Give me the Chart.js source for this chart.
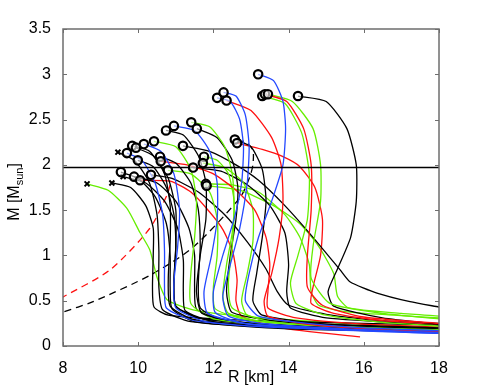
<!DOCTYPE html>
<html>
<head>
<meta charset="utf-8">
<script src="https://cdn.jsdelivr.net/npm/chart.js@4"></script>
<style>
  html, body { margin: 0; padding: 0; background: #fff; }
</style>
</head>
<body>
<canvas id="mrChart" width="485" height="389"></canvas>
<script>
// tick values
const xTicks = [8, 10, 12, 14, 16, 18];
const yTicks = [0, 0.5, 1, 1.5, 2, 2.5, 3, 3.5];
const twoSolarMass = 1.97;

// mass-radius curves, [R km, M Msun], first point = maximum mass
const blueA = [[13.19,3.0],[13.6,2.93],[13.85,2.7],[13.92,2.4],[13.85,2.0],[13.55,1.6],[13.2,1.2],[12.95,0.8],[12.85,0.5],[13.2,0.33],[14.5,0.25],[16,0.2],[18,0.17]];
const blueB1 = [[12.1,2.74],[12.45,2.7],[12.7,2.5],[12.8,2.2],[12.75,1.8],[12.55,1.4],[12.25,1.0],[12.0,0.6],[12.05,0.37],[12.8,0.25],[15,0.18],[18,0.14]];
const blueB2 = [[12.27,2.8],[12.6,2.76],[12.85,2.55],[12.95,2.2],[12.9,1.8],[12.7,1.3],[12.45,0.9],[12.25,0.55],[12.4,0.33],[13.5,0.24],[16,0.18],[18,0.15]];
const redB3 = [[12.35,2.71],[13.0,2.6],[13.55,2.3],[13.8,2.0],[13.85,1.6],[13.75,1.2],[13.55,0.8],[13.35,0.5],[13.45,0.33],[14.5,0.24],[16.5,0.18],[18,0.16]];
const greenC1 = [[13.3,2.76],[13.9,2.68],[14.35,2.35],[14.55,1.9],[14.5,1.4],[14.25,1.0],[14.05,0.7],[14.2,0.47],[15,0.34],[16.5,0.26],[18,0.22]];
const redC2 = [[13.37,2.78],[13.95,2.7],[14.4,2.4],[14.6,2.0],[14.6,1.5],[14.5,1.0],[14.5,0.65],[14.9,0.45],[16,0.32],[18,0.25]];
const greenC3 = [[13.45,2.78],[14.1,2.7],[14.65,2.4],[14.85,2.0],[14.85,1.6],[14.65,1.1],[14.6,0.75],[15.1,0.47],[16.5,0.36],[18,0.3]];
const blackD = [[14.25,2.76],[15.0,2.7],[15.55,2.4],[15.8,2.0],[15.8,1.6],[15.65,1.2],[15.3,0.85],[15.05,0.6],[15.2,0.44],[16.5,0.31],[18,0.24]];
const greenE = [[11.41,2.47],[11.9,2.42],[12.3,2.2],[12.5,1.9],[12.55,1.5],[12.5,1.1],[12.4,0.7],[12.5,0.42],[13.5,0.27],[16,0.2],[18,0.17]];
const blueF = [[10.95,2.43],[11.5,2.38],[11.9,2.15],[12.1,1.8],[12.1,1.4],[11.95,1.0],[11.75,0.6],[11.85,0.36],[13,0.24],[16,0.17],[18,0.14]];
const blackG = [[10.74,2.38],[11.2,2.33],[11.6,2.1],[11.8,1.8],[11.8,1.4],[11.65,1.0],[11.55,0.6],[11.7,0.36],[13,0.25],[16,0.19],[18,0.17]];
const blackH = [[11.56,2.4],[12.1,2.3],[12.5,2.05],[12.65,1.75],[12.6,1.4],[12.45,1.0],[12.35,0.6],[12.5,0.37],[14,0.26],[18,0.2]];
const greenI = [[10.42,2.26],[11.0,2.2],[11.4,1.95],[11.55,1.6],[11.5,1.2],[11.4,0.8],[11.4,0.47],[12,0.3],[14,0.22],[18,0.18]];
const blueJ = [[10.15,2.23],[10.6,2.15],[10.95,1.9],[11.1,1.5],[11.05,1.1],[10.95,0.7],[11.0,0.42],[11.8,0.27],[14,0.2],[18,0.16]];
const blackK = [[9.84,2.21],[10.3,2.15],[10.7,1.9],[10.85,1.55],[10.85,1.15],[10.8,0.75],[10.85,0.44],[11.5,0.29],[14,0.2],[18,0.16]];
const blackL = [[9.94,2.19],[10.4,2.1],[10.8,1.85],[11.0,1.5],[11.0,1.1],[10.95,0.7],[11.0,0.44],[11.6,0.31],[14,0.22],[18,0.18]];
const blueM = [[9.7,2.13],[10.1,2.05],[10.45,1.8],[10.65,1.45],[10.7,1.05],[10.7,0.65],[10.75,0.42],[11.5,0.28],[14,0.2],[18,0.17]];
const blackN = [[9.46,2.14],[9.9,2.05],[10.3,1.8],[10.5,1.45],[10.55,1.05],[10.55,0.65],[10.65,0.4],[11.4,0.27],[14,0.2],[18,0.16]];
const blackO = [[11.19,2.21],[11.9,2.15],[12.6,2.0],[13.2,1.83],[13.9,1.55],[14.65,1.2],[15.37,0.84],[15.63,0.71],[16.35,0.585],[17.23,0.49],[18,0.43]];
const blackP = [[12.57,2.28],[13.0,2.2],[13.3,1.95],[13.4,1.6],[13.3,1.2],[13.15,0.8],[13.05,0.5],[13.3,0.34],[15,0.24],[18,0.19]];
const redQ = [[12.63,2.24],[13.3,2.17],[13.85,2.09],[14.3,1.98],[14.7,1.75],[14.9,1.4],[14.85,1.0],[14.65,0.65],[14.6,0.47],[15.2,0.36],[16.5,0.28],[18,0.24]];
const blackR = [[9.99,2.05],[10.4,1.98],[10.75,1.75],[10.95,1.45],[11.0,1.1],[10.95,0.7],[11.0,0.44],[11.7,0.3],[14,0.22],[18,0.18]];
const blackS = [[10.58,2.09],[11.0,2.02],[11.4,1.8],[11.6,1.5],[11.65,1.1],[11.6,0.7],[11.65,0.42],[12.3,0.28],[14.5,0.21],[18,0.17]];
const redT = [[10.6,2.04],[11.3,2.0],[12.0,1.9],[12.6,1.72],[13.1,1.5],[13.4,1.2],[13.5,0.9],[13.45,0.6],[13.45,0.42],[14.2,0.31],[16,0.24],[18,0.21]];
const greenU = [[11.75,2.09],[12.1,2.05],[12.4,1.9],[12.55,1.6],[12.5,1.25],[12.35,0.9],[12.25,0.55],[12.4,0.36],[13.5,0.26],[16,0.2],[18,0.18]];
const greenV = [[11.72,2.02],[12.3,1.97],[12.8,1.8],[13.05,1.5],[13.05,1.15],[12.9,0.8],[12.75,0.5],[12.9,0.34],[14,0.26],[16,0.21],[18,0.19]];
const blackW = [[11.46,1.97],[12.2,1.93],[12.9,1.78],[13.5,1.55],[13.9,1.25],[14.0,0.9],[13.95,0.6],[14.05,0.42],[15,0.31],[18,0.23]];
const greenX = [[10.79,1.94],[11.4,1.9],[11.9,1.7],[12.1,1.4],[12.1,1.0],[12.0,0.65],[12.05,0.41],[13,0.28],[15.5,0.21],[18,0.18]];
const blackY = [[9.54,1.92],[10.0,1.85],[10.45,1.65],[10.75,1.35],[10.85,1.0],[10.85,0.65],[10.9,0.41],[11.5,0.27],[14,0.19],[18,0.16]];
const blackZ = [[9.6,1.87],[10.2,1.8],[10.7,1.6],[11.05,1.3],[11.2,0.95],[11.2,0.6],[11.25,0.39],[12,0.27],[14.5,0.2],[18,0.17]];
const blackAA = [[9.89,1.87],[10.5,1.8],[11.0,1.6],[11.35,1.3],[11.5,1.0],[11.5,0.65],[11.55,0.41],[12.3,0.28],[15,0.21],[18,0.18]];
const redAB = [[10.05,1.83],[10.85,1.82],[11.4,1.7],[11.9,1.48],[12.26,1.28],[12.52,1.03],[12.63,0.73],[12.6,0.5],[12.75,0.33],[13.8,0.2],[15.9,0.1]];
const blackAC = [[10.34,1.89],[10.9,1.85],[11.6,1.7],[12.3,1.45],[12.9,1.15],[13.4,0.85],[13.7,0.6],[14,0.45],[15,0.35],[16.5,0.28],[18,0.25]];
const greenAD = [[11.8,1.79],[12.5,1.78],[13.2,1.7],[13.9,1.45],[14.3,1.2],[14.55,0.9],[14.6,0.6],[14.8,0.45],[15.5,0.38],[16.8,0.34],[18,0.31]];
const greenAD2 = [[11.82,1.77],[12.7,1.72],[13.6,1.55],[14.3,1.35],[14.8,1.1],[15.2,0.8],[15.3,0.55],[15.6,0.42],[17,0.36],[18,0.33]];
const blackAE = [[9.3,1.8],[9.8,1.75],[10.2,1.55],[10.4,1.3],[10.4,1.0],[10.38,0.65],[10.42,0.43],[10.8,0.34],[12,0.3],[14,0.27],[18,0.23]];
const greenAF = [[8.64,1.79],[9.2,1.72],[9.7,1.52],[10.05,1.25],[10.31,1.06],[10.5,0.76],[10.77,0.51],[11.46,0.4],[13,0.32],[15.5,0.25],[18,0.2]];

// unstable branches (dashed)
const blackDash = [[12.63,2.24],[12.84,2.26],[13.05,2.16],[13.05,2.0],[12.97,1.87],[12.71,1.64],[11.46,1.09],[10.31,0.78],[8.8,0.49],[8.0,0.375]];
const redDash = [[10.85,1.78],[10.77,1.67],[10.31,1.3],[9.25,0.84],[8.0,0.54]];

const BLACK = '#000000', BLUE = '#2448ff', RED = '#ff1010', GREEN = '#66ee00';

// curve table: points, colour, marker
const curves = [
  [blueA, BLUE, 'o'], [blueB1, BLUE, 'o'], [blueB2, BLUE, 'o'], [redB3, RED, 'o'],
  [greenC1, GREEN, 'o'], [redC2, RED, 'o'], [greenC3, GREEN, 'o'], [blackD, BLACK, 'o'],
  [greenE, GREEN, 'o'], [blueF, BLUE, 'o'], [blackG, BLACK, 'o'], [blackH, BLACK, 'o'],
  [greenI, GREEN, 'o'], [blueJ, BLUE, 'o'], [blackK, BLACK, 'o'], [blackL, BLACK, 'o'],
  [blueM, BLUE, 'o'], [blackN, BLACK, 'x'], [blackO, BLACK, 'o'], [blackP, BLACK, 'o'],
  [redQ, RED, 'o'], [blackR, BLACK, 'o'], [blackS, BLACK, 'o'], [redT, RED, 'o'],
  [greenU, GREEN, 'o'], [greenV, GREEN, 'o'], [blackW, BLACK, 'o'], [greenX, GREEN, 'o'],
  [blackY, BLACK, 'o'], [blackZ, BLACK, 'x'], [blackAA, BLACK, 'o'], [redAB, RED, 'o'],
  [blackAC, BLACK, 'o'], [greenAD, GREEN, 'o'], [greenAD2, GREEN, 'o'], [blackAE, BLACK, 'x'],
  [greenAF, GREEN, 'x']
];

const toXY = arr => arr.map(p => ({ x: p[0], y: p[1] }));

const datasets = [];

// coloured curves
curves.forEach(c => {
  datasets.push({
    data: toXY(c[0]),
    borderColor: c[1],
    borderWidth: 1.3,
    pointRadius: 0,
    tension: 0.2,
    order: 2
  });
});

// dashed branches
datasets.push({ data: toXY(blackDash), borderColor: BLACK, borderWidth: 1.3, borderDash: [7, 5], pointRadius: 0, tension: 0.25, order: 2 });
datasets.push({ data: toXY(redDash), borderColor: RED, borderWidth: 1.3, borderDash: [7, 5], pointRadius: 0, tension: 0.25, order: 2 });

// 2 solar mass line
datasets.push({
  data: [{ x: xTicks[0], y: twoSolarMass }, { x: xTicks[xTicks.length - 1], y: twoSolarMass }],
  borderColor: BLACK, borderWidth: 1.6, pointRadius: 0, order: 1
});

// markers at maximum mass
datasets.push({
  type: 'scatter',
  data: curves.filter(c => c[2] === 'o').map(c => ({ x: c[0][0][0], y: c[0][0][1] })),
  pointStyle: 'circle', pointRadius: 4.2, pointBorderWidth: 2.2,
  pointBorderColor: BLACK, pointBackgroundColor: 'rgba(255,255,255,0.6)', order: 0
});
datasets.push({
  type: 'scatter',
  data: curves.filter(c => c[2] === 'x').map(c => ({ x: c[0][0][0], y: c[0][0][1] })),
  pointStyle: 'crossRot', pointRadius: 3.5, pointBorderWidth: 2,
  pointBorderColor: BLACK, order: 0
});

// frame with inward ticks and axis titles (MATLAB look)
const framePlugin = {
  id: 'frame',
  afterDraw(chart) {
    const ctx = chart.ctx;
    const a = chart.chartArea;
    const xs = chart.scales.x, ys = chart.scales.y;
    ctx.save();
    ctx.strokeStyle = '#6e6e6e';
    ctx.lineWidth = 1.5;
    ctx.strokeRect(a.left, a.top, a.right - a.left, a.bottom - a.top);
    ctx.lineWidth = 1;
    ctx.beginPath();
    xTicks.forEach(v => {
      const px = Math.round(xs.getPixelForValue(v)) + 0.5;
      ctx.moveTo(px, a.bottom); ctx.lineTo(px, a.bottom - 4);
      ctx.moveTo(px, a.top); ctx.lineTo(px, a.top + 4);
    });
    yTicks.forEach(v => {
      const py = Math.round(ys.getPixelForValue(v)) + 0.5;
      ctx.moveTo(a.left, py); ctx.lineTo(a.left + 4, py);
      ctx.moveTo(a.right, py); ctx.lineTo(a.right - 4, py);
    });
    ctx.stroke();

    // axis titles
    ctx.fillStyle = '#000';
    ctx.font = '16px "Liberation Sans", Arial, sans-serif';
    ctx.textAlign = 'center';
    ctx.textBaseline = 'middle';
    ctx.fillText('R [km]', (a.left + a.right) / 2, 378);

    ctx.translate(15, 192);
    ctx.rotate(-Math.PI / 2);
    const big = '16px "Liberation Sans", Arial, sans-serif';
    const small = '11px "Liberation Sans", Arial, sans-serif';
    ctx.textAlign = 'left';
    ctx.font = big;
    const w1 = ctx.measureText('M [M').width;
    const w3 = ctx.measureText(']').width;
    ctx.font = small;
    const w2 = ctx.measureText('sun').width;
    let x0 = -(w1 + w2 + w3) / 2;
    ctx.font = big;
    ctx.fillText('M [M', x0, 0);
    ctx.font = small;
    ctx.fillText('sun', x0 + w1, 5);
    ctx.font = big;
    ctx.fillText(']', x0 + w1 + w2, 0);
    ctx.restore();
  }
};

const tickFont = { size: 16, family: '"Liberation Sans", Arial, sans-serif' };

new Chart(document.getElementById('mrChart'), {
  type: 'line',
  data: { datasets: datasets },
  options: {
    responsive: false,
    animation: false,
    layout: { padding: { top: 29, right: 46, left: 0, bottom: 0 } },
    plugins: { legend: { display: false }, tooltip: { enabled: false } },
    scales: {
      x: {
        type: 'linear', min: 8, max: 18,
        afterFit: s => { s.height = 43; },
        afterBuildTicks: s => { s.ticks = xTicks.map(v => ({ value: v })); },
        grid: { display: false },
        border: { display: false },
        ticks: { color: '#000', padding: 5, maxRotation: 0, font: tickFont, callback: v => String(v) }
      },
      y: {
        type: 'linear', min: 0, max: 3.5,
        afterFit: s => { s.width = 63; },
        afterBuildTicks: s => { s.ticks = yTicks.map(v => ({ value: v })); },
        grid: { display: false },
        border: { display: false },
        ticks: { color: '#000', padding: 4, font: tickFont, callback: v => String(v) }
      }
    }
  }
  ,
  plugins: [framePlugin]
});
</script>
</body>
</html>
